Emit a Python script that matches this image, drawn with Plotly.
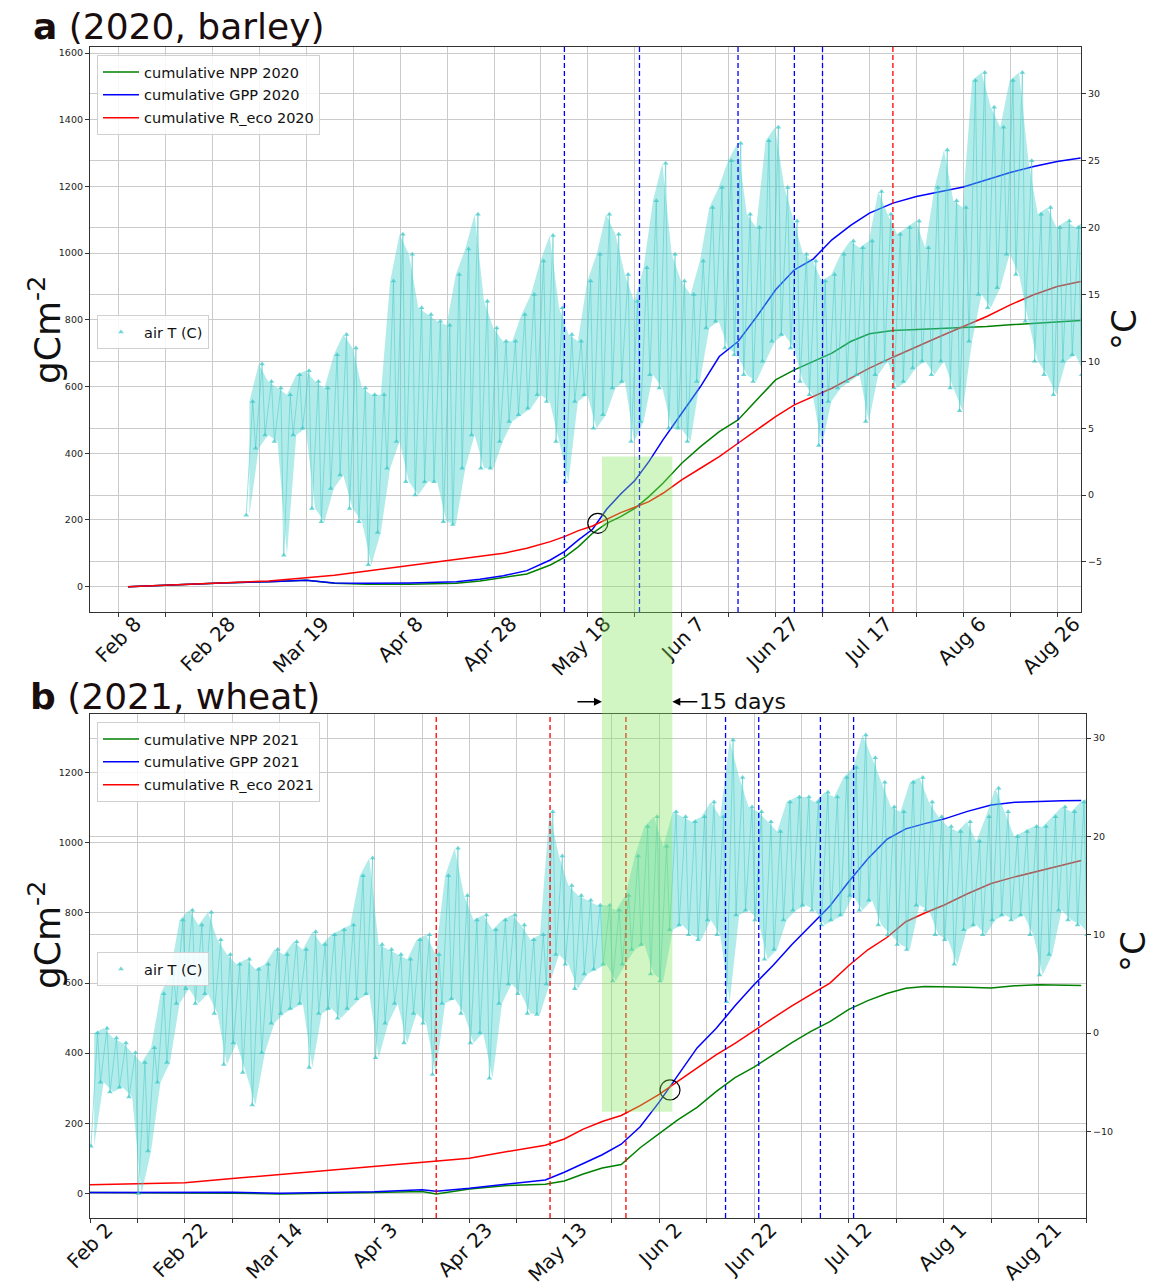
import numpy as np
import pandas as pd
import plotly.graph_objects as go

FONT = "DejaVu Sans"

# ---------------- Panel a (2020, barley) ----------------
dates_a = ['2020-02-10', '2020-02-20', '2020-03-01', '2020-03-11', '2020-03-19', '2020-03-25',
           '2020-04-01', '2020-04-10', '2020-04-20', '2020-04-25', '2020-04-30', '2020-05-05',
           '2020-05-10', '2020-05-13', '2020-05-16', '2020-05-19', '2020-05-22', '2020-05-25',
           '2020-05-28', '2020-05-31', '2020-06-03', '2020-06-07', '2020-06-11', '2020-06-15',
           '2020-06-19', '2020-06-23', '2020-06-27', '2020-07-01', '2020-07-05', '2020-07-09',
           '2020-07-13', '2020-07-17', '2020-07-22', '2020-07-27', '2020-08-01', '2020-08-06',
           '2020-08-11', '2020-08-16', '2020-08-21', '2020-08-26', '2020-08-31']
npp_a = [0, 6, 11, 15, 19, 10, 7, 7, 10, 17, 27, 38, 65, 88, 120, 160, 190, 210, 235, 270, 310,
         370, 420, 465, 500, 560, 620, 650, 675, 700, 735, 758, 768, 771, 773, 775, 780, 785, 790,
         795, 798]
gpp_a = [0, 6, 11, 15, 19, 11, 10, 11, 15, 22, 33, 48, 80, 105, 140, 172, 232, 278, 318, 375, 440,
         520, 600, 690, 735, 810, 890, 950, 982, 1040, 1083, 1120, 1150, 1170, 1185, 1198, 1220,
         1242, 1260, 1275, 1285]
reco_a = [0, 5, 11, 17, 27, 34, 47, 63, 80, 90, 100, 115, 135, 150, 168, 182, 203, 222, 238, 255,
          280, 320, 355, 390, 430, 470, 510, 545, 570, 595, 625, 655, 688, 720, 750, 780, 810, 845,
          875, 900, 915]

# air temperature: extremes read every 2 days starting at temp_start_a
temp_start_a = '2020-03-06'
tmin_a = [-1.5, 3.5, 4.5, 4.0, -4.5, 4.5, 5.0, -1.0, -2.0, 0.5,
          1.5, -1.0, -2.0, -5.2, -2.8, 2.0, 4.0, 1.0, 0.0, 1.0,
          1.0, -2.0, -2.2, 2.0, 4.5, 2.0, 2.0, 4.0, 5.5, 6.0,
          6.5, 7.5, 7.0, 4.0, 1.0, 7.0, 7.5, 5.0, 6.0, 8.0,
          8.5, 4.0, 5.5, 9.0, 8.0, 5.0, 5.0, 4.0, 8.5, 12.5,
          13.0, 11.0, 10.5, 9.0, 8.5, 10.0, 11.5, 12.0, 11.0, 8.5,
          7.5, 3.7, 7.0, 8.0, 8.5, 9.0, 5.5, 9.0, 10.0, 8.0,
          8.5, 9.5, 10.0, 9.0, 10.0, 8.0, 6.3, 11.5, 15.0, 14.0,
          15.5, 18.0, 16.5, 13.0, 10.0, 9.0, 7.5, 10.0, 10.5, 9.0]
tmax_a = [7.0, 9.8, 8.5, 8.0, 7.5, 9.0, 9.3, 8.5, 8.0, 10.5,
          12.0, 11.0, 8.0, 7.5, 7.5, 16.0, 19.5, 18.0, 14.0, 13.5,
          13.0, 12.7, 16.5, 18.4, 21.0, 14.5, 12.5, 11.5, 11.5, 13.5,
          15.0, 17.5, 19.4, 14.0, 12.0, 11.5, 16.0, 18.0, 21.0, 19.5,
          16.5, 14.5, 17.0, 22.0, 24.8, 18.0, 16.0, 15.0, 17.5, 21.5,
          23.0, 25.0, 26.3, 21.0, 20.0, 26.5, 27.5, 23.0, 20.5, 18.0,
          17.5, 16.0, 16.5, 18.0, 19.0, 18.5, 19.0, 22.7, 21.0, 19.5,
          20.0, 20.5, 18.5, 23.0, 25.8, 22.0, 21.5, 31.0, 31.6, 29.0,
          27.5, 31.0, 31.6, 25.0, 21.0, 21.5, 20.0, 20.5, 20.0, 20.5]

blue_lines_a = ['2020-05-13', '2020-05-29', '2020-06-19', '2020-07-01', '2020-07-07']
red_lines_a = ['2020-07-22']
cross_a_x = ['2020-05-20T03:00']
cross_a_y = [190]
ticklabels_a = ['Feb 8', 'Feb 28', 'Mar 19', 'Apr 8', 'Apr 28', 'May 18', 'Jun 7', 'Jun 27',
                'Jul 17', 'Aug 6', 'Aug 26']

# ---------------- Panel b (2021, wheat) ----------------
dates_b = ['2021-02-02', '2021-02-12', '2021-02-22', '2021-03-04', '2021-03-14', '2021-03-24',
           '2021-04-03', '2021-04-13', '2021-04-16', '2021-04-23', '2021-05-01', '2021-05-09',
           '2021-05-13', '2021-05-17', '2021-05-21', '2021-05-25', '2021-05-29', '2021-06-02',
           '2021-06-06', '2021-06-10', '2021-06-14', '2021-06-18', '2021-06-22', '2021-06-26',
           '2021-06-30', '2021-07-04', '2021-07-08', '2021-07-12', '2021-07-16', '2021-07-20',
           '2021-07-24', '2021-07-28', '2021-08-01', '2021-08-06', '2021-08-11', '2021-08-16',
           '2021-08-21', '2021-08-26', '2021-08-30']
npp_b = [2, 2, 1, 0, -2, -1, 2, 5, -2, 12, 22, 26, 35, 55, 72, 82, 130, 170, 210, 245, 290, 330,
         360, 395, 430, 462, 490, 525, 550, 570, 585, 590, 590, 588, 586, 592, 595, 594, 593]
gpp_b = [2, 3, 3, 3, 0, 1, 4, 10, 6, 14, 26, 38, 60, 85, 110, 140, 190, 260, 338, 415, 470, 535,
         595, 650, 710, 765, 820, 890, 955, 1010, 1040, 1055, 1068, 1090, 1108, 1116, 1119, 1120,
         1121]
reco_b = [24, 26, 30, 42, 54, 65, 76, 88, 92, 100, 119, 137, 155, 183, 205, 222, 250, 282, 320,
          358, 395, 428, 465, 500, 535, 567, 600, 650, 695, 730, 775, 800, 822, 855, 884, 903, 920,
          937, 950]

temp_start_b = '2021-02-02'
tmin_b = [-11.5, -5.0, -6.0, -5.5, -6.5, -16.3, -12.0, -5.0, -3.0, 3.0,
          4.5, 3.0, 4.0, 2.0, -3.2, -1.0, -4.0, -7.3, -2.0, 1.0,
          2.0, 2.5, 3.0, -3.5, 2.0, 2.5, 1.5, 2.5, 3.5, 4.0,
          -2.5, 1.0, 3.0, -1.0, 2.0, 1.0, -4.2, 3.0, 3.5, 2.0,
          -1.0, 0.0, -4.6, 3.0, 5.0, 4.0, 2.0, 1.9, 5.0, 8.0,
          7.0, 4.5, 6.0, 6.5, 7.0, 5.3, 7.0, 8.5, 9.0, 6.0,
          5.3, 10.5, 11.0, 10.0, 9.5, 11.5, 10.0, 3.2, 12.0, 12.5,
          11.5, 7.5, 8.5, 11.5, 12.5, 13.0, 12.5, 11.0, 11.5, 12.0,
          14.0, 12.5, 13.5, 11.0, 10.0, 9.0, 8.5, 13.0, 12.5, 10.0,
          9.5, 7.0, 10.5, 11.0, 10.0, 11.5, 12.0, 11.5, 12.0, 10.0,
          5.9, 8.0, 12.5, 11.5, 11.0, 10.0]
tmax_b = [0.0, 0.5, -0.5, -1.0, -2.0, -3.0, -1.5, 4.0, 6.0, 11.5,
          12.5, 11.0, 12.3, 9.5, 8.0, 7.0, 7.5, 6.5, 7.0, 8.5,
          8.0, 9.3, 8.5, 10.3, 9.0, 10.0, 10.5, 11.0, 16.0, 17.8,
          9.0, 8.5, 8.0, 7.5, 9.5, 10.0, 8.0, 16.0, 18.8, 14.0,
          11.5, 12.0, 10.5, 11.5, 12.0, 11.0, 9.5, 10.0, 22.5, 18.0,
          15.0, 14.0, 13.5, 13.0, 13.0, 12.5, 14.0, 18.0, 21.0, 22.0,
          19.0, 22.5, 22.0, 21.5, 22.0, 23.5, 22.0, 29.8, 26.0, 23.0,
          22.5, 21.5, 20.5, 23.5, 24.0, 24.0, 23.5, 24.5, 24.0, 26.0,
          27.0, 30.3, 28.0, 25.5, 23.0, 22.5, 25.5, 26.0, 23.5, 22.0,
          21.0, 20.5, 21.5, 19.5, 22.0, 24.9, 22.5, 20.0, 20.5, 21.0,
          21.0, 22.0, 23.0, 22.5, 23.5, 24.0]

red_lines_b = ['2021-04-16', '2021-05-10', '2021-05-26']
blue_lines_b = ['2021-06-16', '2021-06-23', '2021-07-06', '2021-07-13']
cross_b_x = ['2021-06-04T07:00']
cross_b_y = [295]
ticklabels_b = ['Feb 2', 'Feb 22', 'Mar 14', 'Apr 3', 'Apr 23', 'May 13', 'Jun 2', 'Jun 22',
                'Jul 12', 'Aug 1', 'Aug 21']

# 15-day window (shaded) and its vertical extent (top in panel a units, bottom in panel b units)
window_start = '2020-05-21'
window_days = 15
window_top_a = 390
window_bottom_b = 233

# ---------------- layout geometry ----------------
W, H = 1153, 1288
ML, MR, MT, MB = 90, 67, 47, 70
DOM_A = [0.5175, 1.0]
DOM_B = [0.0, 0.43]
XDOM_A = [0.0, 0.995]
XR_A = ['2020-02-01T22:00', '2020-08-31T02:00']
XR_B = ['2021-02-02', '2021-08-31']
YR_A = [-76, 1618]
YR2_A = [-8.74, 33.5]
YR_B = [-70.6, 1366.6]
YR2_B = [-18.8, 32.4]

PW = W - ML - MR
PH = H - MT - MB


def px_x(px):
    return (px - ML) / PW


def px_y(px):
    return 1 - (px - MT) / PH


def ypaper(v, rng, dom):
    return dom[0] + (v - rng[0]) / (rng[1] - rng[0]) * (dom[1] - dom[0])


def zigzag(start, tmin, tmax):
    days = pd.date_range(start, periods=len(tmin), freq='2D')
    xs, ys = [], []
    for d, lo, hi in zip(days, tmin, tmax):
        xs += [d + pd.Timedelta(hours=5), d + pd.Timedelta(hours=38)]
        ys += [lo, hi]
    return xs, ys


def ticks(labels, year):
    first = pd.Timestamp(f"{labels[0]} {year}")
    vals = pd.date_range(first, periods=2 * len(labels), freq='10D')
    text = []
    for i in range(len(vals)):
        text.append(labels[i // 2] if i % 2 == 0 else '')
    return list(vals), text


GREEN, BLUE, RED = '#008000', '#0000ff', '#ff0000'
CYAN_F = 'rgba(72,209,204,0.42)'
CYAN_L = 'rgba(64,200,200,0.5)'
CYAN_M = 'rgba(64,200,200,0.75)'

fig = go.Figure()


def add_panel(xa, ya, ya2, leg1, leg2, dates, npp, gpp, reco, year, tstart, tmin, tmax, cx, cy):
    for name, vals, col in [(f'cumulative NPP {year}', npp, GREEN),
                            (f'cumulative GPP {year}', gpp, BLUE),
                            (f'cumulative R_eco {year}', reco, RED)]:
        fig.add_trace(go.Scatter(x=dates, y=vals, mode='lines', name=name,
                                 line=dict(color=col, width=1.5), xaxis=xa, yaxis=ya,
                                 legend=leg1, legendgroup=name))
    fig.add_trace(go.Scatter(x=cx, y=cy, mode='markers', showlegend=False,
                             marker=dict(symbol='circle-open', size=20, color='black',
                                         line=dict(width=1.2, color='black')),
                             xaxis=xa, yaxis=ya))
    # envelope of the daily range
    days = pd.date_range(tstart, periods=len(tmin), freq='2D') + pd.Timedelta(hours=21)
    fig.add_trace(go.Scatter(x=days, y=tmin, mode='lines', showlegend=False,
                             line=dict(width=0, color=CYAN_F), xaxis=xa, yaxis=ya2))
    fig.add_trace(go.Scatter(x=days, y=tmax, mode='lines', showlegend=False, fill='tonexty',
                             fillcolor=CYAN_F, line=dict(width=0, color=CYAN_F),
                             xaxis=xa, yaxis=ya2))
    tx, ty = zigzag(tstart, tmin, tmax)
    fig.add_trace(go.Scatter(x=tx, y=ty, mode='lines', showlegend=False,
                             line=dict(color=CYAN_L, width=1.0), xaxis=xa, yaxis=ya2))
    fig.add_trace(go.Scatter(x=tx, y=ty, mode='markers', name='air T (C)',
                             marker=dict(symbol='triangle-up', size=5, color=CYAN_M),
                             xaxis=xa, yaxis=ya2, legend=leg2))


add_panel('x', 'y', 'y2', 'legend', 'legend2', dates_a, npp_a, gpp_a, reco_a, 2020,
          temp_start_a, tmin_a, tmax_a, cross_a_x, cross_a_y)
add_panel('x2', 'y3', 'y4', 'legend3', 'legend4', dates_b, npp_b, gpp_b, reco_b, 2021,
          temp_start_b, tmin_b, tmax_b, cross_b_x, cross_b_y)

tv_a, tt_a = ticks(ticklabels_a, 2020)
tv_b, tt_b = ticks(ticklabels_b, 2021)

GRID = '#cbcbcb'
LINEC = '#333333'
xcommon = dict(showgrid=True, gridcolor=GRID, gridwidth=1, showline=True, mirror=True,
               linecolor=LINEC, linewidth=1.2, ticks='outside', ticklen=4, tickcolor=LINEC,
               tickangle=-45, tickfont=dict(size=20, family=FONT, color='#111'),
               ticklabelshift=17, ticklabelstandoff=-13, zeroline=False, automargin=False)
ycommon = dict(showgrid=True, gridcolor=GRID, gridwidth=1, showline=True, linecolor=LINEC,
               linewidth=1.2, ticks='outside', ticklen=4, tickcolor=LINEC,
               tickfont=dict(size=9.5, family=FONT, color='#222'), zeroline=False,
               automargin=False)

fig.update_layout(
    width=W, height=H, margin=dict(l=ML, r=MR, t=MT, b=MB, autoexpand=False),
    paper_bgcolor='white', plot_bgcolor='white',
    font=dict(family=FONT, color='#111'),
    xaxis=dict(domain=XDOM_A, range=XR_A, anchor='y', tickvals=tv_a, ticktext=tt_a, **xcommon),
    xaxis2=dict(domain=[0, 1], range=XR_B, anchor='y3', tickvals=tv_b, ticktext=tt_b, **xcommon),
    yaxis=dict(domain=DOM_A, range=YR_A, anchor='x', tickvals=list(range(0, 1601, 200)),
               **ycommon),
    yaxis2=dict(range=YR2_A, overlaying='y', side='right', anchor='x',
                tickvals=list(range(-5, 31, 5)), **ycommon),
    yaxis3=dict(domain=DOM_B, range=YR_B, anchor='x2', tickvals=list(range(0, 1201, 200)),
                **ycommon),
    yaxis4=dict(range=YR2_B, overlaying='y3', side='right', anchor='x2',
                tickvals=list(range(-10, 31, 10)), **ycommon),
    showlegend=True,
)

legend_style = dict(xanchor='left', yanchor='top', bgcolor='rgba(255,255,255,0.85)',
                    bordercolor='#d0d0d0', borderwidth=1,
                    font=dict(size=14.5, family=FONT, color='#111'), tracegroupgap=1,
                    itemwidth=36)
fig.update_layout(
    legend=dict(x=px_x(97), y=px_y(55), **legend_style),
    legend2=dict(x=px_x(97), y=px_y(315), **legend_style),
    legend3=dict(x=px_x(97), y=px_y(722), **legend_style),
    legend4=dict(x=px_x(97), y=px_y(952), **legend_style),
)

shapes = []
for xref, yref, lines, col in [('x', 'y domain', blue_lines_a, 'blue'),
                               ('x', 'y domain', red_lines_a, 'red'),
                               ('x2', 'y3 domain', red_lines_b, 'red'),
                               ('x2', 'y3 domain', blue_lines_b, 'blue')]:
    for d in lines:
        shapes.append(dict(type='line', xref=xref, yref=yref, x0=d, x1=d, y0=0, y1=1,
                           line=dict(color=col, width=1.3, dash='5px,3px'), layer='above'))
w_end = pd.Timestamp(window_start) + pd.Timedelta(days=window_days)
shapes.append(dict(type='rect', xref='x', yref='paper', x0=window_start, x1=w_end,
                   y0=ypaper(window_bottom_b, YR_B, DOM_B),
                   y1=ypaper(window_top_a, YR_A, DOM_A),
                   fillcolor='rgba(130,230,90,0.36)', line=dict(width=0), layer='above'))
fig.update_layout(shapes=shapes)

Y15 = px_y(701.7)
ann = [
    dict(text='<b>a</b> (2020, barley)', xref='paper', yref='paper', x=px_x(31), y=px_y(26),
         xanchor='left', yanchor='middle', showarrow=False, font=dict(size=36, family=FONT, color='#1a0d0d')),
    dict(text='<b>b</b> (2021, wheat)', xref='paper', yref='paper', x=px_x(28), y=px_y(696),
         xanchor='left', yanchor='middle', showarrow=False, font=dict(size=36, family=FONT, color='#1a0d0d')),
    dict(text='gCm<sup>-2</sup>', xref='paper', yref='paper', x=px_x(45), y=px_y(330),
         textangle=-90, xanchor='center', yanchor='middle', showarrow=False,
         font=dict(size=36, family=FONT, color='#111')),
    dict(text='gCm<sup>-2</sup>', xref='paper', yref='paper', x=px_x(45), y=px_y(935),
         textangle=-90, xanchor='center', yanchor='middle', showarrow=False,
         font=dict(size=36, family=FONT, color='#111')),
    dict(text='°C', xref='paper', yref='paper', x=px_x(1124), y=px_y(330),
         textangle=-90, xanchor='center', yanchor='middle', showarrow=False,
         font=dict(size=34, family=FONT, color='#111')),
    dict(text='°C', xref='paper', yref='paper', x=px_x(1133), y=px_y(952),
         textangle=-90, xanchor='center', yanchor='middle', showarrow=False,
         font=dict(size=34, family=FONT, color='#111')),
    dict(text='', xref='x', yref='paper', x=window_start, y=Y15, showarrow=True, ax=-26, ay=0,
         arrowhead=2, arrowsize=1, arrowwidth=1.6, arrowcolor='black'),
    dict(text='15 days', xref='x', yref='paper', x=w_end, y=Y15, showarrow=True, ax=70, ay=0,
         arrowhead=2, arrowsize=1, arrowwidth=1.6, arrowcolor='black',
         font=dict(size=22, family=FONT, color='#111')),
]
fig.update_layout(annotations=ann)

fig.write_html("out.html")
